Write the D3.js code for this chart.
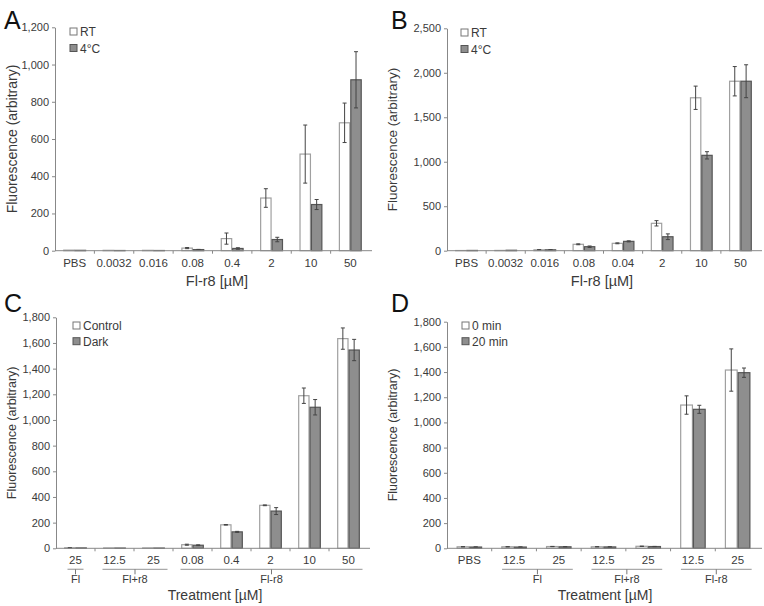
<!DOCTYPE html>
<html>
<head>
<meta charset="utf-8">
<script src="https://cdn.jsdelivr.net/npm/d3@7/dist/d3.min.js"></script>
<style>
  body { margin: 0; background: #fff; }
  svg { display: block; font-family: "Liberation Sans", Arial, sans-serif; }
</style>
</head>
<body>
<div id="chart"></div>
<script>
// ---- data ----
const catsA = ['PBS', '0.0032', '0.016', '0.08', '0.4', '2', '10', '50'];
const rtA = [3, 2, 2, 14, 65, 283, 519, 687];
const rtErrA = [0, 0, 0, 3, 30, 50, 156, 106];
const coldA = [2, 1, 1, 6, 12, 60, 248, 918];
const coldErrA = [0, 0, 0, 1, 4, 12, 27, 151];

const catsB = ['PBS', '0.0032', '0.016', '0.08', '0.04', '2', '10', '50'];
const rtB = [2, 3, 10, 72, 83, 308, 1719, 1905];
const rtErrB = [0, 0, 2, 5, 5, 30, 131, 165];
const coldB = [3, 5, 10, 45, 105, 157, 1072, 1905];
const coldErrB = [0, 0, 2, 8, 6, 32, 41, 185];

const catsC = ['25', '12.5', '25', '0.08', '0.4', '2', '10', '50'];
const groupNamesC = ['Fl', 'Fl+r8', 'Fl-r8'];
const groupOfC = [0, 1, 1, 2, 2, 2, 2, 2];
const controlC = [4, 3, 3, 28, 183, 335, 1189, 1634];
const controlErrC = [1, 0, 0, 4, 2, 3, 60, 83];
const darkC = [3, 2, 2, 24, 128, 290, 1099, 1545];
const darkErrC = [0, 0, 0, 3, 4, 27, 60, 83];

const catsD = ['PBS', '12.5', '25', '12.5', '25', '12.5', '25'];
const groupNamesD = ['Fl', 'Fl+r8', 'Fl-r8'];
const groupOfD = [-1, 0, 0, 1, 1, 2, 2];
const min0D = [12, 12, 14, 12, 16, 1138, 1416];
const min0ErrD = [1, 1, 1, 1, 1, 73, 168];
const min20D = [10, 10, 12, 11, 14, 1104, 1395];
const min20ErrD = [1, 1, 1, 1, 1, 32, 37];

const W = 764, H = 606;
const svg = d3.select('#chart').append('svg').attr('width', W).attr('height', H);

const textCol = '#3a3a3a';
const whiteStroke = '#a0a0a0';
const greyFill = '#8e8e8e';
const greyStroke = '#555';

function panel(opt) {
  const g = svg.append('g');
  const x = d3.scaleBand().domain(d3.range(opt.cats.length)).range([opt.x0, opt.x1]);
  const y = d3.scaleLinear().domain([0, opt.ymax]).range([opt.yb, opt.yt]);
  const bw = x.step() * opt.barFrac;

  // panel letter
  g.append('text').attr('x', opt.letterX).attr('y', opt.letterY)
    .attr('font-size', 25).attr('fill', '#111').text(opt.letter);

  // y axis
  const yAxis = g.append('g').attr('transform', `translate(${opt.x0},0)`)
    .call(d3.axisLeft(y).tickValues(d3.range(0, opt.ymax + 1, opt.ystep))
      .tickFormat(d3.format(',')).tickSize(3).tickSizeOuter(0));
  yAxis.select('.domain').attr('stroke', '#888');
  yAxis.selectAll('.tick line').attr('stroke', '#888');
  yAxis.selectAll('.tick text').attr('font-size', 11).attr('fill', textCol)
    .attr('font-family', '"Liberation Sans", Arial, sans-serif');

  g.append('text')
    .attr('transform', `translate(${opt.ytitleX},${(opt.yb + opt.yt) / 2}) rotate(-90)`)
    .attr('text-anchor', 'middle').attr('font-size', opt.ytitleSize).attr('fill', textCol)
    .text('Fluorescence (arbitrary)');

  // bars
  const series = [
    { vals: opt.s1, errs: opt.e1, fill: '#fff', stroke: whiteStroke, off: -bw },
    { vals: opt.s2, errs: opt.e2, fill: greyFill, stroke: greyStroke, off: 0 }
  ];
  series.forEach(s => {
    const cx = i => x(i) + x.bandwidth() / 2;
    g.append('g').selectAll('rect').data(s.vals).join('rect')
      .attr('x', (d, i) => cx(i) + s.off + 0.5)
      .attr('y', d => y(d))
      .attr('width', bw - 1)
      .attr('height', d => y(0) - y(d))
      .attr('fill', s.fill).attr('stroke', s.stroke).attr('stroke-width', 1.2);
    const eg = g.append('g').attr('stroke', '#444').attr('stroke-width', 1);
    s.vals.forEach((v, i) => {
      const e = s.errs[i];
      if (!e) return;
      const ex = cx(i) + s.off + bw / 2;
      eg.append('line').attr('x1', ex).attr('x2', ex).attr('y1', y(v + e)).attr('y2', y(Math.max(0, v - e)));
      eg.append('line').attr('x1', ex - 2).attr('x2', ex + 2).attr('y1', y(v + e)).attr('y2', y(v + e));
      eg.append('line').attr('x1', ex - 2).attr('x2', ex + 2).attr('y1', y(Math.max(0, v - e))).attr('y2', y(Math.max(0, v - e)));
    });
  });

  // x axis line + boundary ticks
  g.append('line').attr('x1', opt.x0).attr('x2', opt.x1 + 2).attr('y1', y(0)).attr('y2', y(0))
    .attr('stroke', '#888');
  d3.range(1, opt.cats.length).forEach(i => {
    const bx = opt.x0 + i * x.step();
    g.append('line').attr('x1', bx).attr('x2', bx).attr('y1', y(0)).attr('y2', y(0) + 3).attr('stroke', '#888');
  });
  g.append('g').selectAll('text').data(opt.cats).join('text')
    .attr('x', (d, i) => x(i) + x.bandwidth() / 2)
    .attr('y', y(0) + 16)
    .attr('text-anchor', 'middle').attr('font-size', opt.tickSize).attr('fill', textCol)
    .text(d => d);

  // group brackets
  if (opt.groups) {
    const ly = y(0) + 21;
    opt.groups.forEach((name, gi) => {
      const idx = opt.groupOf.map((v, i) => v === gi ? i : -1).filter(i => i >= 0);
      const c0 = x(idx[0]) + x.bandwidth() / 2, c1 = x(idx[idx.length - 1]) + x.bandwidth() / 2;
      const l0 = idx.length === 1 ? c0 - 8 : c0 - 12;
      const l1 = idx.length === 1 ? c0 + 8 : c1 + 14;
      const mid = (l0 + l1) / 2;
      g.append('line').attr('x1', l0).attr('x2', l1).attr('y1', ly).attr('y2', ly)
        .attr('stroke', '#aaa').attr('stroke-width', 1.3);
      g.append('line').attr('x1', mid).attr('x2', mid).attr('y1', ly).attr('y2', ly + 5)
        .attr('stroke', '#777');
      g.append('text').attr('x', mid).attr('y', ly + 14).attr('text-anchor', 'middle')
        .attr('font-size', 11).attr('fill', textCol).text(name);
    });
  }

  g.append('text').attr('x', opt.xtitleX).attr('y', opt.xtitleY).attr('text-anchor', 'middle')
    .attr('font-size', opt.xtitleSize).attr('fill', textCol).text(opt.xtitle);

  // legend
  opt.legend.forEach((name, i) => {
    const ly = opt.legY + i * opt.legGap;
    g.append('rect').attr('x', opt.legX).attr('y', ly - 4).attr('width', 7).attr('height', 7)
      .attr('fill', i === 0 ? '#fff' : greyFill).attr('stroke', i === 0 ? '#777' : greyStroke);
    g.append('text').attr('x', opt.legX + 10).attr('y', ly + 4).attr('font-size', 12)
      .attr('fill', textCol).text(name);
  });
}

panel({
  letter: 'A', letterX: 4, letterY: 29,
  cats: catsA, s1: rtA, e1: rtErrA, s2: coldA, e2: coldErrA,
  x0: 55, x1: 370, yb: 250.7, yt: 27.3, ymax: 1200, ystep: 200, barFrac: 0.29,
  ytitleX: 17, ytitleSize: 14, tickSize: 11.5,
  xtitle: 'Fl-r8 [\u00b5M]', xtitleX: 217, xtitleY: 286, xtitleSize: 14.5,
  legend: ['RT', '4\u00b0C'], legX: 70, legY: 32, legGap: 16.5
});

panel({
  letter: 'B', letterX: 391, letterY: 29,
  cats: catsB, s1: rtB, e1: rtErrB, s2: coldB, e2: coldErrB,
  x0: 447, x1: 760, yb: 250.7, yt: 28.3, ymax: 2500, ystep: 500, barFrac: 0.29,
  ytitleX: 397, ytitleSize: 13.5, tickSize: 11.5,
  xtitle: 'Fl-r8 [\u00b5M]', xtitleX: 602, xtitleY: 286, xtitleSize: 14.5,
  legend: ['RT', '4\u00b0C'], legX: 461, legY: 33, legGap: 16.5
});

panel({
  letter: 'C', letterX: 4, letterY: 312,
  cats: catsC, s1: controlC, e1: controlErrC, s2: darkC, e2: darkErrC,
  groups: groupNamesC, groupOf: groupOfC,
  x0: 56, x1: 368, yb: 548.3, yt: 317.3, ymax: 1800, ystep: 200, barFrac: 0.29,
  ytitleX: 16, ytitleSize: 12.5, tickSize: 11.5,
  xtitle: 'Treatment [\u00b5M]', xtitleX: 215, xtitleY: 600, xtitleSize: 14,
  legend: ['Control', 'Dark'], legX: 73, legY: 326, legGap: 15.7
});

panel({
  letter: 'D', letterX: 391, letterY: 312,
  cats: catsD, s1: min0D, e1: min0ErrD, s2: min20D, e2: min20ErrD,
  groups: groupNamesD, groupOf: groupOfD,
  x0: 447, x1: 760, yb: 548.3, yt: 321.7, ymax: 1800, ystep: 200, barFrac: 0.285,
  ytitleX: 397, ytitleSize: 12.5, tickSize: 11.5,
  xtitle: 'Treatment [\u00b5M]', xtitleX: 605, xtitleY: 600, xtitleSize: 14,
  legend: ['0 min', '20 min'], legX: 462, legY: 326, legGap: 15.7
});
</script>
</body>
</html>
